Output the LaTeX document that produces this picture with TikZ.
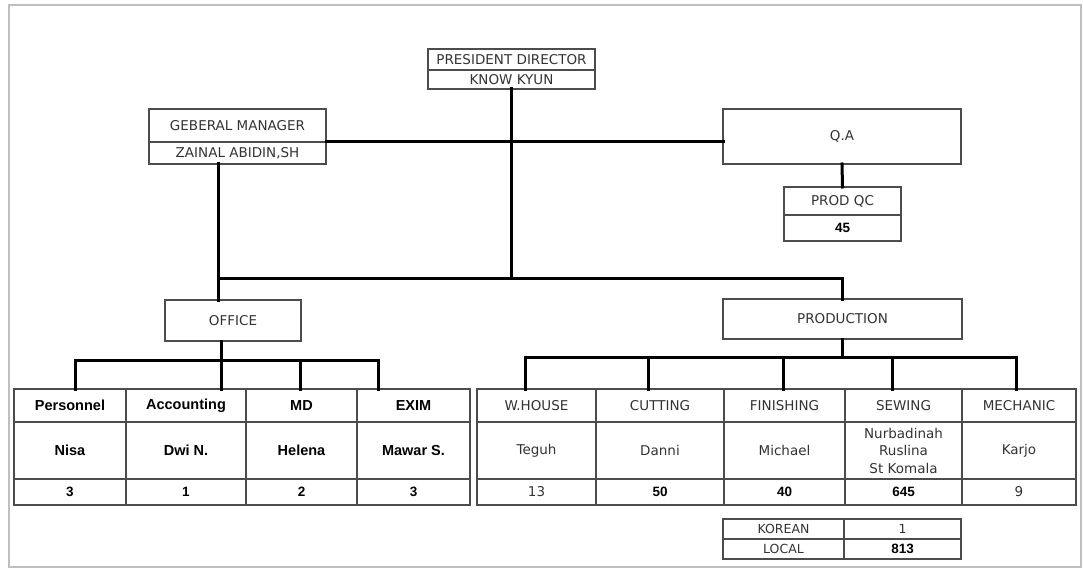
\documentclass[tikz,border=0pt]{standalone}
\usepackage{fontspec}
\setmainfont{DejaVu Sans}
\newfontfamily\arialfont{Liberation Sans}
\usetikzlibrary{positioning}

\begin{document}
\begin{tikzpicture}[
    x=1pt, y=-1pt,
    node distance=0pt,
    box/.style={rectangle, draw=black!70, line width=1.3pt, inner sep=0pt, outer sep=0pt, align=center, text=black!80, font=\fontsize{13.5}{17.5}\selectfont},
    boldtext/.style={font=\arialfont\bfseries\fontsize{14.5}{16}\selectfont, text=black},
    boldnum/.style={font=\arialfont\bfseries\fontsize{13.5}{16}\selectfont, text=black},
    small/.style={font=\fontsize{12.5}{14}\selectfont},
    hrow/.style={minimum height=33pt},
    nrow/.style={minimum height=57pt},
    crow/.style={minimum height=26pt},
    link/.style={line width=3pt, black, line cap=rect}
]
    \useasboundingbox (0,0) rectangle (1083,569);
    \draw[black!25, line width=1.5pt] (9,5) rectangle (1081,567);

    % management
    \node[box, minimum width=167pt, minimum height=21pt, anchor=north west] (pd) at (428,49) {PRESIDENT DIRECTOR};
    \node[box, minimum width=167pt, minimum height=19pt, below=of pd] (pdname) {KNOW KYUN};
    \node[box, minimum width=177pt, minimum height=33pt, anchor=north west] (gm) at (149,109) {GEBERAL MANAGER};
    \node[box, minimum width=177pt, minimum height=22pt, below=of gm] (gmname) {ZAINAL ABIDIN,SH};
    \node[box, minimum width=238pt, minimum height=55pt, anchor=north west] (qa) at (723,109) {Q.A};
    \node[box, minimum width=117pt, minimum height=28pt, anchor=north west] (qc) at (784,187) {PROD QC};
    \node[box, boldnum, minimum width=117pt, minimum height=26pt, below=of qc] (qcnum) {45};
    \node[box, minimum width=136pt, minimum height=41pt, anchor=north west] (office) at (165,300) {OFFICE};
    \node[box, minimum width=239pt, minimum height=40pt, anchor=north west] (prod) at (723,299) {PRODUCTION};

    % office table
    \node[box, boldtext, hrow, minimum width=112pt, anchor=north west] (pers) at (14,389) {Personnel};
    \node[box, boldtext, hrow, minimum width=120pt, right=of pers] (acc) {Accounting};
    \node[box, boldtext, hrow, minimum width=111pt, right=of acc] (md) {MD};
    \node[box, boldtext, hrow, minimum width=113pt, right=of md] (exim) {EXIM};
    \node[box, boldtext, nrow, minimum width=112pt, below=of pers] (persname) {Nisa};
    \node[box, boldtext, nrow, minimum width=120pt, below=of acc] (accname) {Dwi N.};
    \node[box, boldtext, nrow, minimum width=111pt, below=of md] (mdname) {Helena};
    \node[box, boldtext, nrow, minimum width=113pt, below=of exim] (eximname) {Mawar S.};
    \node[box, boldnum, crow, minimum width=112pt, below=of persname] (persnum) {3};
    \node[box, boldnum, crow, minimum width=120pt, below=of accname] (accnum) {1};
    \node[box, boldnum, crow, minimum width=111pt, below=of mdname] (mdnum) {2};
    \node[box, boldnum, crow, minimum width=113pt, below=of eximname] (eximnum) {3};

    % production table
    \node[box, hrow, minimum width=119pt, anchor=north west] (wh) at (477,389) {W.HOUSE};
    \node[box, hrow, minimum width=128pt, right=of wh] (cut) {CUTTING};
    \node[box, hrow, minimum width=121pt, right=of cut] (fin) {FINISHING};
    \node[box, hrow, minimum width=117pt, right=of fin] (sew) {SEWING};
    \node[box, hrow, minimum width=114pt, right=of sew] (mech) {MECHANIC};
    \node[box, nrow, minimum width=119pt, below=of wh] (whname) {Teguh};
    \node[box, nrow, minimum width=128pt, below=of cut] (cutname) {Danni};
    \node[box, nrow, minimum width=121pt, below=of fin] (finname) {Michael};
    \node[box, nrow, minimum width=117pt, below=of sew] (sewname) {Nurbadinah\\Ruslina\\St Komala};
    \node[box, nrow, minimum width=114pt, below=of mech] (mechname) {Karjo};
    \node[box, crow, minimum width=119pt, below=of whname] (whnum) {13};
    \node[box, boldnum, crow, minimum width=128pt, below=of cutname] (cutnum) {50};
    \node[box, boldnum, crow, minimum width=121pt, below=of finname] (finnum) {40};
    \node[box, boldnum, crow, minimum width=117pt, below=of sewname] (sewnum) {645};
    \node[box, crow, minimum width=114pt, below=of mechname] (mechnum) {9};

    % totals
    \node[box, small, minimum width=121pt, minimum height=20pt, anchor=north west] (korean) at (723,519) {KOREAN};
    \node[box, small, minimum width=117pt, minimum height=20pt, right=of korean] (koreannum) {1};
    \node[box, small, minimum width=121pt, minimum height=20pt, below=of korean] (local) {LOCAL};
    \node[box, boldnum, minimum width=117pt, minimum height=20pt, below=of koreannum] (localnum) {813};

    % connectors
    \coordinate (j) at (218,278);
    \draw[link] (pdname.south) -- (pdname.south |- j);
    \draw[link] (gm.south east) -- (gm.south east -| qa.west);
    \draw[link] (j |- gmname.south) -- (j |- office.north);
    \draw[link] (j) -| (prod.north);
    \draw[link] (qa.south) -- (qc.north);

    \coordinate (o1) at (75,360);
    \coordinate (o2) at (221,360);
    \coordinate (o3) at (300,360);
    \coordinate (o4) at (378,360);
    \draw[link] (o2 |- office.south) -- (o2);
    \draw[link] (o1) -- (o4);
    \foreach \p/\c in {o1/pers, o2/acc, o3/md, o4/exim}
        \draw[link] (\p) -- (\p |- \c.north);

    \coordinate (p1) at (525,357);
    \coordinate (p2) at (648,357);
    \coordinate (p3) at (783,357);
    \coordinate (p4) at (892,357);
    \coordinate (p5) at (1016,357);
    \draw[link] (prod.south) -- (prod.south |- p1);
    \draw[link] (p1) -- (p5);
    \foreach \p/\c in {p1/wh, p2/cut, p3/fin, p4/sew, p5/mech}
        \draw[link] (\p) -- (\p |- \c.north);
\end{tikzpicture}
\end{document}
